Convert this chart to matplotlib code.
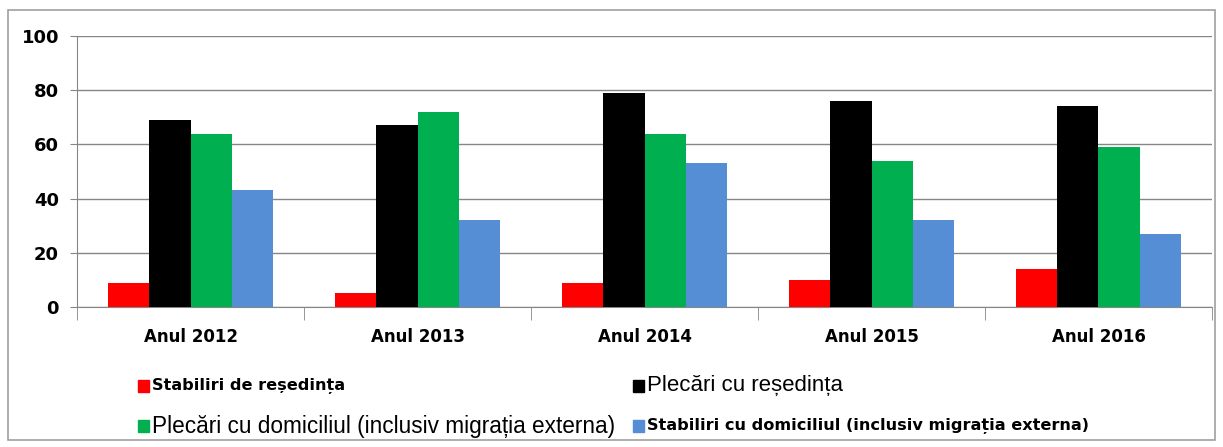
import matplotlib
matplotlib.use("Agg")
import matplotlib.pyplot as plt
import numpy as np
from matplotlib.patches import Rectangle

# data
years = ["Anul 2012", "Anul 2013", "Anul 2014", "Anul 2015", "Anul 2016"]
stabiliri_resedinta = [9, 5, 9, 10, 14]
plecari_resedinta = [69, 67, 79, 76, 74]
plecari_domiciliu = [64, 72, 64, 54, 59]
stabiliri_domiciliu = [43, 32, 53, 32, 27]

labels = ["Stabiliri de reședința", "Plecări cu reședința",
          "Plecări cu domiciliul (inclusiv migrația externa)",
          "Stabiliri cu domiciliul (inclusiv migrația externa)"]
colors = ["#FF0000", "#000000", "#00B050", "#558ED5"]

bold_fam = ["DejaVu Sans"]
reg_fam = ["Liberation Sans", "DejaVu Sans"]

fig = plt.figure(figsize=(12.23, 4.47), dpi=100)
ax = fig.add_axes([0.063, 0.3132, 0.928, 0.6063])

series = [stabiliri_resedinta, plecari_resedinta, plecari_domiciliu, stabiliri_domiciliu]
x = np.arange(len(years))
w = 0.181
for i, (vals, c) in enumerate(zip(series, colors)):
    ax.bar(x + (i - 1.5) * w, vals, width=w, color=c, zorder=3)

ax.set_xlim(-0.5, len(years) - 0.5)
ax.set_ylim(0, 100)
ax.set_yticks(range(0, 101, 20))
ax.yaxis.grid(True, color="#868686", linewidth=1, zorder=0)
for s in ["top", "right"]:
    ax.spines[s].set_visible(False)
for s in ["left", "bottom"]:
    ax.spines[s].set_color("#868686")
ax.set_xticks(x)
ax.set_xticklabels(years, family=bold_fam, fontsize=12, fontweight="bold")
ax.tick_params(axis="x", length=0, pad=15)
ax.set_xticks(np.arange(-0.5, len(years)), minor=True)
ax.tick_params(axis="x", which="minor", length=9, color="#868686")
ax.tick_params(axis="y", length=5, color="#868686", pad=8)
for t in ax.get_yticklabels():
    t.set_family(bold_fam)
    t.set_fontsize(13)
    t.set_fontweight("bold")

# legend, laid out like the reference (marker left x, text left x, row y in pixels)
W, H = 1223, 447
leg_pos = [(138, 152, 386), (633, 647, 386), (138, 152, 426), (633, 647, 426)]
leg_style = [(bold_fam, "bold", 11.6), (reg_fam, "normal", 16),
             (reg_fam, "normal", 16.3), (bold_fam, "bold", 11.6)]
for (mx, tx, py), (fam, fw, fs), lab, c in zip(leg_pos, leg_style, labels, colors):
    fig.patches.append(Rectangle((mx / W, 1 - (py + 6) / H), 11 / W, 12 / H,
                                 transform=fig.transFigure, color=c))
    fig.text(tx / W, 1 - py / H, lab, family=fam, fontweight=fw,
             fontsize=fs, va="center", ha="left")

fig.patches.append(Rectangle((8 / W, 1 - 440 / H), 1207 / W, 430 / H,
                             transform=fig.transFigure, fill=False,
                             edgecolor="#a0a0a0", linewidth=1.2))

fig.savefig("out.png", dpi=100)
